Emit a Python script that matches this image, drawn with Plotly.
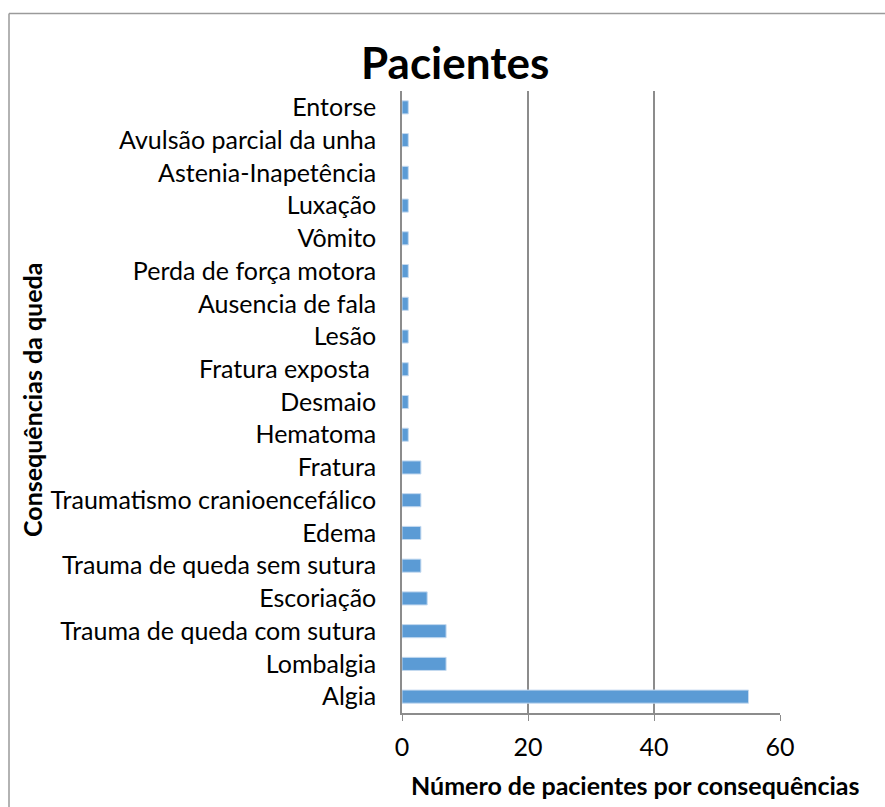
import plotly.graph_objects as go

categories = ["Algia", "Lombalgia", "Trauma de queda com sutura", "Escoriação",
              "Trauma de queda sem sutura", "Edema", "Traumatismo cranioencefálico",
              "Fratura", "Hematoma", "Desmaio", "Fratura exposta ", "Lesão",
              "Ausencia de fala", "Perda de força motora", "Vômito", "Luxação",
              "Astenia-Inapetência", "Avulsão parcial da unha", "Entorse"]
values = [55, 7, 7, 4, 3, 3, 3, 3, 1, 1, 1, 1, 1, 1, 1, 1, 1, 1, 1]
x_ticks = [0, 20, 40, 60]

FONT = "Lato"

# desired on-screen pixel positions
PL, PR, PT, PB = 402, 780, 91, 713
W, H = 885, 807
L, T = PL, PT
R, B = W - PR, H - PB
pw, ph = PR - PL, PB - PT


def px(x):
    return (x - PL) / pw


def py(y):
    return (PB - y) / ph


fig = go.Figure(go.Bar(
    y=categories, x=values, orientation="h",
    marker=dict(color="#5b9bd5", line=dict(color="#c5daf0", width=1)),
))

fig.update_layout(
    width=W, height=H,
    margin=dict(l=L, r=R, t=T, b=B),
    paper_bgcolor="white", plot_bgcolor="white",
    bargap=0.6,
    showlegend=False,
    font=dict(family=FONT, color="black", size=25),
    xaxis=dict(range=[0, 60], tickvals=x_ticks, showgrid=True, gridcolor="#8c8c8c",
               gridwidth=1.5, zeroline=False, showline=True, linecolor="#8c8c8c",
               linewidth=1.5, ticks="outside", ticklen=6, tickcolor="#8c8c8c",
               tickfont=dict(size=25, family=FONT), ticklabelstandoff=5),
    yaxis=dict(categoryorder="array", categoryarray=categories, showgrid=False,
               showline=True, linecolor="#8c8c8c", linewidth=1.5, ticks="",
               tickfont=dict(size=25, family=FONT), ticklabelstandoff=19),
    annotations=[
        dict(text="<b>Pacientes</b>", xref="paper", yref="paper",
             x=px(455), y=py(62), xanchor="center", yanchor="middle",
             showarrow=False, font=dict(size=44, family=FONT)),
        dict(text="<b>Número de pacientes por consequências</b>", xref="paper", yref="paper",
             x=px(635), y=py(785), xanchor="center", yanchor="middle",
             showarrow=False, font=dict(size=25, family=FONT)),
        dict(text="<b>Consequências da queda</b>", xref="paper", yref="paper",
             x=px(32), y=py(400), xanchor="center", yanchor="middle",
             textangle=-90, showarrow=False, font=dict(size=25, family=FONT)),
    ],
    shapes=[
        dict(type="line", xref="paper", yref="paper",
             x0=px(9), x1=px(900), y0=py(13.5), y1=py(13.5),
             line=dict(color="#9a9a9a", width=1.5)),
        dict(type="line", xref="paper", yref="paper",
             x0=px(9), x1=px(9), y0=py(13.5), y1=py(820),
             line=dict(color="#9a9a9a", width=1.5)),
    ],
)

fig.write_html("out.html", config={"displayModeBar": False},
               post_script="document.body.style.margin='0';document.body.style.overflow='hidden';")
